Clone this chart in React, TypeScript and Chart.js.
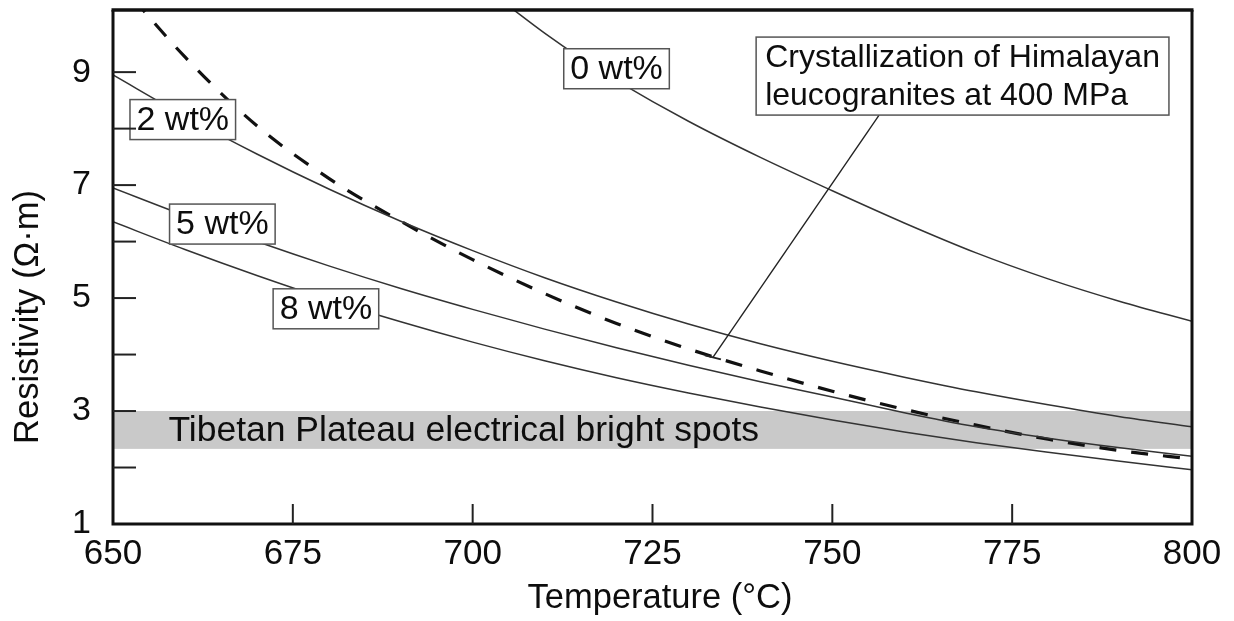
import React, { useEffect, useRef } from 'react';
import { Chart, registerables } from 'chart.js';

Chart.register(...registerables);

// ---- data ----
const temps = [650, 660, 670, 680, 690, 700, 710, 720, 730, 740, 750, 760, 770, 780, 790, 800];
const temps0 = [705, 710, 715, 720, 730, 740, 750, 760, 770, 780, 790, 800];
const wt0 = [10.17, 9.69, 9.25, 8.85, 8.13, 7.49, 6.9, 6.33, 5.8, 5.34, 4.94, 4.59];
const wt2 = [8.95, 8.22, 7.55, 6.93, 6.36, 5.84, 5.36, 4.93, 4.54, 4.19, 3.88, 3.6, 3.34, 3.11, 2.9, 2.72];
const wt5 = [6.95, 6.46, 6.0, 5.57, 5.17, 4.8, 4.45, 4.12, 3.81, 3.52, 3.25, 2.97, 2.72, 2.52, 2.35, 2.2];
const wt8 = [6.35, 5.86, 5.4, 4.97, 4.58, 4.22, 3.89, 3.59, 3.32, 3.07, 2.84, 2.63, 2.44, 2.27, 2.11, 1.96];
const crystal = [10.72, 9.27, 8.05, 7.12, 6.36, 5.68, 5.08, 4.55, 4.1, 3.71, 3.35, 3.03, 2.75, 2.5, 2.3, 2.15];

const xTicks = [650, 675, 700, 725, 750, 775, 800];
const yLabelled = [1, 3, 5, 7, 9];
const yMinorTicks = [2, 3, 4, 5, 6, 7, 8, 9];

const bandRange = [2.33, 3.0];
const bandLabel = 'Tibetan Plateau electrical bright spots';
const curveLabels = ['0 wt%', '2 wt%', '5 wt%', '8 wt%'];
const curveLabelAt = [
  [720, 9.06],
  [659.7, 8.16],
  [665.2, 6.31],
  [679.6, 4.81],
];
const noteLines = ['Crystallization of Himalayan', 'leucogranites at 400 MPa'];
const noteAt = [768.1, 8.93];
const noteLeaderFrom = [756.5];
const noteLeaderTo = [733.4, 3.95];

const xTitle = 'Temperature (°C)';
const yTitle = 'Resistivity (Ω·m)';

const FONT = '"Liberation Sans", Arial, Helvetica, sans-serif';
const INK = '#0d0d0d';

const pts = (xs: number[], ys: number[]) => xs.map((x, i) => ({ x, y: ys[i] }));

const decor = {
  id: 'decor',
  beforeDatasetsDraw(chart: any) {
    const { ctx, chartArea: a, scales } = chart;
    const x = scales.x, y = scales.y;
    ctx.save();
    const yt = y.getPixelForValue(bandRange[1]);
    const yb = y.getPixelForValue(bandRange[0]);
    ctx.fillStyle = '#c9c9c9';
    ctx.fillRect(a.left, yt, a.right - a.left, yb - yt);
    ctx.fillStyle = INK;
    ctx.font = `35.5px ${FONT}`;
    ctx.textAlign = 'left';
    ctx.textBaseline = 'middle';
    ctx.fillText(bandLabel, x.getPixelForValue(657.7), (yt + yb) / 2 + 1);
    ctx.restore();
  },
  afterDatasetsDraw(chart: any) {
    const { ctx, chartArea: a, scales } = chart;
    const x = scales.x, y = scales.y;
    ctx.save();

    // curve labels
    ctx.font = `34px ${FONT}`;
    ctx.textAlign = 'center';
    ctx.textBaseline = 'middle';
    curveLabels.forEach((t, i) => {
      const cx = x.getPixelForValue(curveLabelAt[i][0]);
      const cy = y.getPixelForValue(curveLabelAt[i][1]);
      const w = ctx.measureText(t).width + 13;
      const h = 40;
      ctx.fillStyle = '#fff';
      ctx.fillRect(cx - w / 2, cy - h / 2, w, h);
      ctx.strokeStyle = '#555';
      ctx.lineWidth = 1.5;
      ctx.strokeRect(cx - w / 2, cy - h / 2, w, h);
      ctx.fillStyle = INK;
      ctx.fillText(t, cx, cy + 1);
    });

    // note box with leader
    const nx = x.getPixelForValue(noteAt[0]);
    const ny = y.getPixelForValue(noteAt[1]);
    ctx.font = `32px ${FONT}`;
    const nw = Math.max(...noteLines.map((l) => ctx.measureText(l).width)) + 18;
    const nh = 78;
    const lx0 = x.getPixelForValue(noteLeaderFrom[0]);
    const ly0 = ny + nh / 2;
    const lx1 = x.getPixelForValue(noteLeaderTo[0]);
    const ly1 = y.getPixelForValue(noteLeaderTo[1]);
    ctx.strokeStyle = '#222';
    ctx.lineWidth = 1.4;
    ctx.beginPath();
    ctx.moveTo(lx0, ly0);
    ctx.lineTo(lx1, ly1);
    ctx.stroke();
    ctx.lineWidth = 2;
    ctx.beginPath();
    ctx.moveTo(lx1 - 8, ly1 - 2);
    ctx.lineTo(lx1 + 8, ly1 + 2);
    ctx.stroke();

    ctx.fillStyle = '#fff';
    ctx.fillRect(nx - nw / 2, ny - nh / 2, nw, nh);
    ctx.strokeStyle = '#555';
    ctx.lineWidth = 1.5;
    ctx.strokeRect(nx - nw / 2, ny - nh / 2, nw, nh);
    ctx.fillStyle = INK;
    ctx.textAlign = 'left';
    ctx.textBaseline = 'middle';
    ctx.fillText(noteLines[0], nx - nw / 2 + 9, ny - 18);
    ctx.fillText(noteLines[1], nx - nw / 2 + 9, ny + 20);

    // frame
    ctx.strokeStyle = '#111';
    ctx.lineWidth = 3;
    ctx.beginPath();
    ctx.moveTo(a.left, a.top);
    ctx.lineTo(a.left, a.bottom);
    ctx.lineTo(a.right, a.bottom);
    ctx.lineTo(a.right, a.top);
    ctx.stroke();
    ctx.lineWidth = 3.6;
    ctx.beginPath();
    ctx.moveTo(a.left - 1.5, a.top);
    ctx.lineTo(a.right + 1.5, a.top);
    ctx.stroke();

    // inward ticks
    ctx.lineWidth = 2;
    ctx.strokeStyle = '#222';
    yMinorTicks.forEach((v) => {
      const py = y.getPixelForValue(v);
      ctx.beginPath();
      ctx.moveTo(a.left, py);
      ctx.lineTo(a.left + 23, py);
      ctx.stroke();
    });
    xTicks.slice(1, -1).forEach((v) => {
      const px = x.getPixelForValue(v);
      ctx.beginPath();
      ctx.moveTo(px, a.bottom);
      ctx.lineTo(px, a.bottom - 20);
      ctx.stroke();
    });

    // axis titles
    ctx.fillStyle = INK;
    ctx.font = `34.5px ${FONT}`;
    ctx.textAlign = 'center';
    ctx.textBaseline = 'middle';
    ctx.fillText(xTitle, 660, 598);
    ctx.translate(28, 317);
    ctx.rotate(-Math.PI / 2);
    ctx.fillText(yTitle, 0, 0);
    ctx.restore();
  },
};

export default function App() {
  const ref = useRef<HTMLCanvasElement | null>(null);
  useEffect(() => {
    document.body.style.margin = '0';
    const solid = {
      borderColor: '#333',
      borderWidth: 1.5,
      pointRadius: 0,
      fill: false,
      cubicInterpolationMode: 'monotone' as const,
    };
    const chart = new Chart(ref.current as HTMLCanvasElement, {
      type: 'line',
      data: {
        datasets: [
          { ...solid, label: curveLabels[0], data: pts(temps0, wt0) },
          { ...solid, label: curveLabels[1], data: pts(temps, wt2) },
          { ...solid, label: curveLabels[2], data: pts(temps, wt5) },
          { ...solid, label: curveLabels[3], data: pts(temps, wt8) },
          {
            ...solid,
            label: 'Crystallization',
            data: pts(temps, crystal),
            borderColor: '#111',
            borderWidth: 3.2,
            borderDash: [17, 15],
          },
        ],
      },
      options: {
        animation: false,
        responsive: true,
        maintainAspectRatio: false,
        events: [],
        layout: { padding: { top: 10, right: 42, left: 0, bottom: 0 } },
        plugins: { legend: { display: false }, tooltip: { enabled: false } },
        scales: {
          x: {
            type: 'linear',
            min: xTicks[0],
            max: xTicks[xTicks.length - 1],
            afterBuildTicks: (s: any) => {
              s.ticks = xTicks.map((v) => ({ value: v }));
            },
            ticks: {
              padding: 9,
              color: INK,
              autoSkip: false,
              maxRotation: 0,
              font: { family: FONT, size: 35 },
            },
            grid: { display: false, drawTicks: false },
            border: { display: false },
            afterFit: (s: any) => {
              s.height = 97;
              s.paddingLeft = 0;
              s.paddingRight = 0;
            },
          },
          y: {
            type: 'linear',
            min: 1,
            max: 10.1,
            afterBuildTicks: (s: any) => {
              s.ticks = yLabelled.map((v) => ({ value: v }));
            },
            ticks: {
              padding: 22,
              color: INK,
              autoSkip: false,
              font: { family: FONT, size: 34 },
            },
            grid: { display: false, drawTicks: false },
            border: { display: false },
            afterFit: (s: any) => {
              s.width = 113;
              s.paddingTop = 0;
              s.paddingBottom = 0;
            },
          },
        },
      },
      plugins: [decor],
    });
    return () => chart.destroy();
  }, []);
  return (
    <div style={{ width: 1234, height: 621, position: 'relative', background: '#fff' }}>
      <canvas ref={ref} />
    </div>
  );
}
